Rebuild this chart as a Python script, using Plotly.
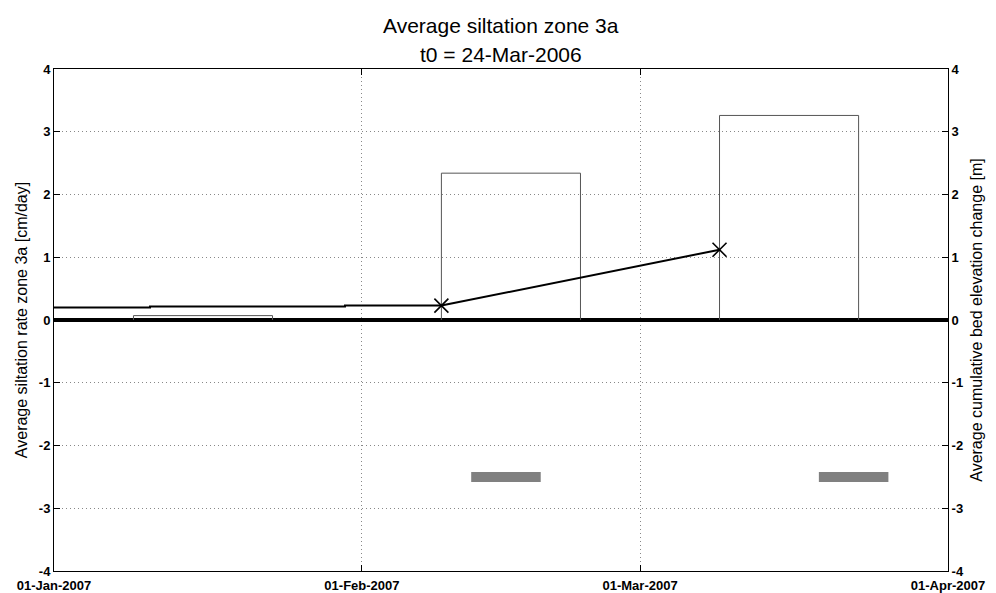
import plotly.graph_objects as go

# Axis extents and date ticks
x_range = ["2007-01-01", "2007-04-01"]
tick_dates = ["2007-01-01", "2007-02-01", "2007-03-01", "2007-04-01"]
tick_labels = ["01-Jan-2007", "01-Feb-2007", "01-Mar-2007", "01-Apr-2007"]
y_ticks = [-4, -3, -2, -1, 0, 1, 2, 3, 4]

# Average siltation rate per survey period [cm/day]
rate_start = ["2007-01-09", "2007-02-09", "2007-03-09"]
rate_end = ["2007-01-23", "2007-02-23", "2007-03-23"]
rate_value = [0.07, 2.34, 3.26]

# Cumulative bed elevation change [m] (stepped record before first survey)
cum_dates = ["2007-01-01", "2007-01-10 16:00", "2007-01-30 07:00", "2007-02-09"]
cum_values = [0.20, 0.215, 0.23, 0.23]

# Survey points of cumulative change [m]
survey_dates = ["2007-02-09", "2007-03-09"]
survey_values = [0.23, 1.12]

# Dredging periods, drawn as bars at a fixed level
dredge_start = ["2007-02-12", "2007-03-19"]
dredge_end = ["2007-02-19", "2007-03-26"]
dredge_level = [-2.5, -2.5]

title_lines = ["Average siltation zone 3a", "t0 = 24-Mar-2006"]

fig = go.Figure()

# Rate bars as open rectangles
for s, e, v in zip(rate_start, rate_end, rate_value):
    fig.add_trace(go.Scatter(
        x=[s, s, e, e], y=[0, v, v, 0], mode="lines",
        line=dict(color="#555555", width=1), showlegend=False, hoverinfo="skip"))

# Stepped cumulative record
fig.add_trace(go.Scatter(
    x=cum_dates, y=cum_values, mode="lines", line_shape="hv",
    line=dict(color="black", width=2), showlegend=False, yaxis="y2"))

# Survey points joined by a line
fig.add_trace(go.Scatter(
    x=survey_dates, y=survey_values, mode="lines+markers",
    line=dict(color="black", width=2),
    marker=dict(symbol="x-thin", size=14, line=dict(color="black", width=1.6)),
    showlegend=False, yaxis="y2"))

# Dredging bars
for s, e, v in zip(dredge_start, dredge_end, dredge_level):
    fig.add_trace(go.Scatter(
        x=[s, e], y=[v, v], mode="lines",
        line=dict(color="#808080", width=10), showlegend=False))

font_family = "Liberation Sans, Arial, sans-serif"
tick_font = dict(family=font_family, size=13, color="black", weight="bold")
grid_dash = "1px,3px"
y_tick_text = [str(v) for v in y_ticks]

# Two-line title, placed line by line above the plot area
H, T, B = 593, 69, 22
plot_h = H - T - B
title_px = [25, 54]
annotations = [
    dict(text=txt, xref="paper", yref="paper", x=0.5, xanchor="center",
         y=(H - B - py) / plot_h, yanchor="middle", showarrow=False,
         font=dict(family=font_family, size=21, color="black"))
    for txt, py in zip(title_lines, title_px)
]

fig.update_layout(
    width=996, height=H,
    margin=dict(l=54, r=48, t=T, b=B),
    paper_bgcolor="white", plot_bgcolor="white",
    font=dict(family=font_family, color="black"),
    annotations=annotations,
    xaxis=dict(
        type="date", range=x_range, tickmode="array",
        tickvals=tick_dates, ticktext=tick_labels, tickfont=tick_font,
        ticks="inside", ticklen=6, tickcolor="black", ticklabelstandoff=2,
        showline=True, linecolor="black", linewidth=1, mirror="ticks",
        showgrid=True, gridcolor="#888888", griddash=grid_dash, gridwidth=1,
        zeroline=False, automargin=False),
    yaxis=dict(
        range=[-4, 4], tickmode="array", tickvals=y_ticks, ticktext=y_tick_text,
        tickfont=tick_font,
        ticks="inside", ticklen=6, tickcolor="black",
        showline=True, linecolor="black", linewidth=1,
        showgrid=True, gridcolor="#888888", griddash=grid_dash, gridwidth=1,
        zeroline=True, zerolinecolor="black", zerolinewidth=4,
        automargin=False,
        title=dict(text="Average siltation rate zone 3a [cm/day]",
                   font=dict(size=16), standoff=7)),
    yaxis2=dict(
        range=[-4, 4], tickmode="array", tickvals=y_ticks, ticktext=y_tick_text,
        tickfont=tick_font,
        overlaying="y", side="right",
        ticks="inside", ticklen=6, tickcolor="black",
        showline=True, linecolor="black", linewidth=1,
        showgrid=False, zeroline=False, automargin=False,
        title=dict(text="Average cumulative bed elevation change [m]",
                   font=dict(size=16), standoff=7)),
)

fig.write_html("out.html")
